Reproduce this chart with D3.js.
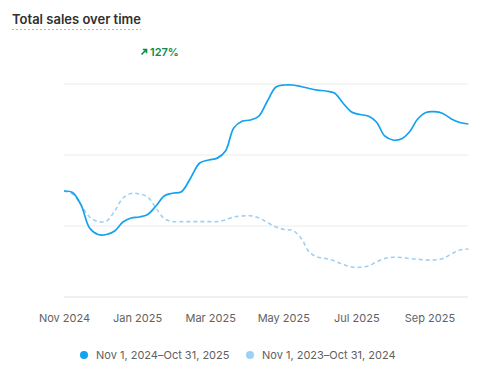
<!DOCTYPE html>
<html><head><meta charset="utf-8">
<script src="https://cdn.jsdelivr.net/npm/d3@7"></script>
<style>
html,body{margin:0;padding:0;background:#fff;}
svg{display:block;font-family:Inter,"Noto Sans",sans-serif;}
</style></head>
<body><svg id="c" width="484" height="379"></svg>
<script>
const title = "Total sales over time";
const changeLabel = "127%";
const dates = ["2024-11-01","2024-11-08","2024-11-15","2024-11-22","2024-11-29",
"2024-12-06","2024-12-13","2024-12-20","2024-12-27",
"2025-01-03","2025-01-10","2025-01-17","2025-01-24","2025-01-31",
"2025-02-07","2025-02-14","2025-02-21","2025-02-28",
"2025-03-07","2025-03-14","2025-03-21","2025-03-28",
"2025-04-04","2025-04-11","2025-04-18","2025-04-25",
"2025-05-02","2025-05-09","2025-05-16","2025-05-23","2025-05-30",
"2025-06-06","2025-06-13","2025-06-20","2025-06-27",
"2025-07-04","2025-07-11","2025-07-18","2025-07-25",
"2025-08-01","2025-08-08","2025-08-15","2025-08-22","2025-08-29",
"2025-09-05","2025-09-12","2025-09-19","2025-09-26","2025-10-03"];
const currentSales = [149.3,147.2,129.6,97.2,88.0,88.0,93.0,105.6,111.3,112.7,
116.2,128.2,142.3,146.1,148.3,167.6,188.7,193.0,195.6,205.6,
238.0,247.5,249.3,254.9,276.1,295.8,298.6,298.6,296.5,293.7,
291.5,290.1,287.3,273.2,260.6,257.0,254.9,246.5,226.8,221.1,
222.5,232.4,250.7,259.9,261.0,258.5,250.7,245.8,243.7];
const previousSales = [149.3,145.1,129.6,112.7,106.3,107.0,121.1,139.4,145.8,145.1,
140.8,125.4,110.6,106.3,106.1,106.1,106.1,106.1,106.1,108.5,
112.7,114.1,114.5,111.3,104.9,98.6,95.1,93.7,83.0,63.4,
56.3,54.2,50.7,45.8,42.3,41.8,43.7,49.3,54.2,55.9,
55.6,54.2,53.2,52.1,52.1,54.2,60.6,66.2,67.6];
const yTicks = [0,100,200,300];
const monthTicks = ["2024-11-01","2024-12-01","2025-01-01","2025-02-01","2025-03-01","2025-04-01","2025-05-01","2025-06-01","2025-07-01","2025-08-01","2025-09-01","2025-10-01"];
const tickLabels = ["Nov 2024","Jan 2025","Mar 2025","May 2025","Jul 2025","Sep 2025"];
const legendLabels = ["Nov 1, 2024–Oct 31, 2025","Nov 1, 2023–Oct 31, 2024"];
const colors = ["#13a2ef","#9dd0f4"];

const parse = d3.utcParse("%Y-%m-%d");
const svg = d3.select("#c");
const L = 64, R = 466, T = 84, B = 297;

const monthDates = monthTicks.map(parse);
const x = d3.scaleUtc().domain(monthDates)
  .range(monthDates.map((d,i)=> L + i*(R-L)/(monthDates.length-1)));
const y = d3.scaleLinear().domain([0,300]).range([B,T]);

// title
svg.append("text").attr("x",12).attr("y",24).attr("font-size",13).attr("font-weight",600)
  .attr("fill","#303030").text(title);
svg.append("line").attr("x1",12).attr("x2",141).attr("y1",29.5).attr("y2",29.5)
  .attr("stroke","#b5b5b5").attr("stroke-width",1.2).attr("stroke-dasharray","2,2");

// change indicator
const g0 = svg.append("g").attr("transform","translate(141,56)");
g0.append("path").attr("d","M0.5,-1.5 L5.5,-6.5 M1.8,-6.5 H5.5 V-2.8")
  .attr("stroke","#0c8a48").attr("stroke-width",1.6).attr("fill","none");
g0.append("text").attr("x",9).attr("y",0).attr("font-size",11).attr("font-weight",600)
  .attr("fill","#0c8a48").text(changeLabel);

// grid
svg.append("g").selectAll("line").data(yTicks).join("line")
  .attr("x1",L).attr("x2",468).attr("y1",d=>y(d)).attr("y2",d=>y(d))
  .attr("stroke","#ebebeb").attr("stroke-width",d=>d===0?1.5:1);

// x axis labels
const labelDates = tickLabels.map((t,i)=>monthDates[i*2]);
const xAxis = d3.axisBottom(x).tickValues(labelDates).tickSize(0).tickPadding(0)
  .tickFormat((d,i)=>tickLabels[i]);
const ax = svg.append("g").attr("transform","translate(0,314)").call(xAxis);
ax.select(".domain").remove();
ax.selectAll("text").attr("font-size",11).attr("fill","#616161")
  .attr("font-family","Inter,'Noto Sans',sans-serif").attr("dy","0.71em");

// lines
const pts = dates.map(parse);
const line = d3.line().x((d,i)=>x(pts[i])).y(d=>y(d)).curve(d3.curveCatmullRom.alpha(0.5));
svg.append("path").datum(previousSales).attr("d",line).attr("fill","none")
  .attr("stroke",colors[1]).attr("stroke-width",1.6).attr("stroke-dasharray","4,3");
svg.append("path").datum(currentSales).attr("d",line).attr("fill","none")
  .attr("stroke",colors[0]).attr("stroke-width",1.7);

// legend
const legX = [84, 250];
const lg = svg.append("g").selectAll("g").data(legendLabels).join("g")
  .attr("transform",(d,i)=>`translate(${legX[i]},355)`);
lg.append("circle").attr("r",4).attr("fill",(d,i)=>colors[i]);
lg.append("text").attr("x",12).attr("y",4).attr("font-size",11).attr("fill","#616161").text(d=>d);
</script></body></html>
